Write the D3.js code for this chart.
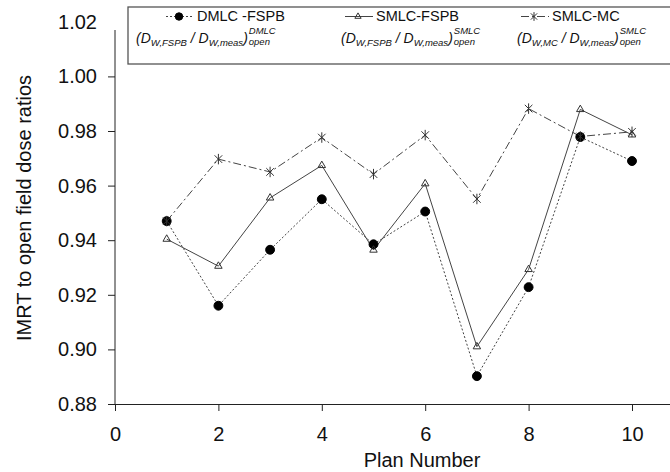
<!DOCTYPE html>
<html>
<head>
<meta charset="utf-8">
<script src="https://cdn.jsdelivr.net/npm/d3@7"></script>
<style>
  body { margin: 0; background: #fff; }
  svg { display: block; font-family: "Liberation Sans", Arial, sans-serif; }
</style>
</head>
<body>
<svg id="chart" width="670" height="472"></svg>
<script>
// values
const plans = [1, 2, 3, 4, 5, 6, 7, 8, 9, 10];
const dmlcFspb = [0.947, 0.916, 0.9365, 0.955, 0.9385, 0.9505, 0.8902, 0.9228, 0.9778, 0.969];
const smlcFspb = [0.9404, 0.9305, 0.9555, 0.9674, 0.9364, 0.9607, 0.901, 0.9293, 0.9879, 0.9786];
const smlcMc = [0.947, 0.9697, 0.965, 0.9776, 0.9642, 0.9785, 0.9551, 0.9882, 0.978, 0.9797];
const xTicks = [0, 2, 4, 6, 8, 10];
const yTicks = [0.88, 0.9, 0.92, 0.94, 0.96, 0.98, 1.0, 1.02];

const svg = d3.select("#chart");

// scales
const x = d3.scaleLinear().domain([0, 11]).range([115, 683.7]);
const y = d3.scaleLinear().domain([0.88, 1.02]).range([404, 21.8]);

// star marker: vertical bar with an X through it
const star = {
  draw(ctx, size) {
    const r = Math.sqrt(size) / 2;
    const d = r * 0.72;
    ctx.moveTo(0, -r); ctx.lineTo(0, r);
    ctx.moveTo(-d, -d); ctx.lineTo(d, d);
    ctx.moveTo(-d, d); ctx.lineTo(d, -d);
  }
};

const series = [
  { name: "DMLC -FSPB", values: dmlcFspb, dash: "2,2", sym: d3.symbolCircle, size: 62, fill: "#000", stroke: "#000",
    sup: "DMLC", sub1: "W,FSPB", lx: 136, sx: 166 },
  { name: "SMLC-FSPB", values: smlcFspb, dash: null, sym: d3.symbolTriangle2, size: 40, fill: "none", stroke: "#333",
    sup: "SMLC", sub1: "W,FSPB", lx: 341, sx: 345 },
  { name: "SMLC-MC", values: smlcMc, dash: "8,3,2,3", sym: star, size: 110, fill: "none", stroke: "#333",
    sup: "SMLC", sub1: "W,MC", lx: 517, sx: 521 }
];

// axes
const yAxis = d3.axisLeft(y).tickValues(yTicks).tickFormat(d3.format(".2f")).tickSize(7).tickPadding(11);
const gy = svg.append("g").attr("transform", "translate(115,0)").call(yAxis);
gy.select(".domain").remove();
gy.selectAll(".tick line").filter((d) => d > 1.01).remove();
gy.append("line").attr("x1", 0).attr("x2", 0).attr("y1", 30).attr("y2", y(0.88)).attr("stroke", "#222");

const xAxis = d3.axisBottom(x).tickValues(xTicks).tickSize(7).tickSizeOuter(0).tickPadding(16);
const gx = svg.append("g").attr("transform", "translate(0," + y(0.88) + ")").call(xAxis);

svg.selectAll(".tick text").attr("font-size", 20).attr("fill", "#111").attr("font-family", "Liberation Sans, Arial, sans-serif");
svg.selectAll(".tick line, .domain").attr("stroke", "#222");

// axis titles
svg.append("text").attr("x", 422).attr("y", 467).attr("text-anchor", "middle")
  .attr("font-size", 20).attr("fill", "#111").text("Plan Number");
svg.append("text").attr("transform", "translate(31,208) rotate(-90)").attr("text-anchor", "middle")
  .attr("font-size", 20).attr("fill", "#111").text("IMRT to open field dose ratios");

// lines and markers
const line = d3.line().x((d, i) => x(plans[i])).y((d) => y(d));

series.forEach((s) => {
  svg.append("path").datum(s.values).attr("d", line)
    .attr("fill", "none").attr("stroke", "#444").attr("stroke-width", 1)
    .attr("stroke-dasharray", s.dash);
});
series.forEach((s) => {
  svg.append("g").selectAll("path").data(s.values).join("path")
    .attr("transform", (d, i) => "translate(" + x(plans[i]) + "," + y(d) + ")")
    .attr("d", d3.symbol().type(s.sym).size(s.size))
    .attr("fill", s.fill).attr("stroke", s.stroke).attr("stroke-width", 1);
});

// legend
const lg = svg.append("g");
lg.append("rect").attr("x", 128).attr("y", 7).attr("width", 560).attr("height", 57)
  .attr("fill", "#fff").attr("stroke", "#555").attr("stroke-width", 1.3);

series.forEach((s) => {
  lg.append("line").attr("x1", s.sx).attr("x2", s.sx + 28).attr("y1", 16.5).attr("y2", 16.5)
    .attr("stroke", "#444").attr("stroke-dasharray", s.dash);
  lg.append("path").attr("transform", "translate(" + (s.sx + 13) + ",16.5)")
    .attr("d", d3.symbol().type(s.sym).size(s.size * 0.7))
    .attr("fill", s.fill).attr("stroke", s.stroke);
  lg.append("text").attr("x", s.sx + 31).attr("y", 21).attr("font-size", 14.5).attr("fill", "#111").text(s.name);

  const t = lg.append("text").attr("x", s.lx).attr("y", 43).attr("font-size", 14)
    .attr("font-style", "italic").attr("fill", "#111");
  t.append("tspan").text("(D");
  t.append("tspan").attr("font-size", 9.5).attr("dy", 3).text(s.sub1);
  t.append("tspan").attr("dy", -3).text(" / D");
  t.append("tspan").attr("font-size", 9.5).attr("dy", 3).text("W,meas");
  t.append("tspan").attr("dy", -3).text(")");
  const end = s.lx + t.node().getComputedTextLength() + 1;
  lg.append("text").attr("x", end).attr("y", 33.5).attr("font-size", 9.5)
    .attr("font-style", "italic").attr("fill", "#111").text(s.sup);
  lg.append("text").attr("x", end).attr("y", 44.5).attr("font-size", 9.5)
    .attr("font-style", "italic").attr("fill", "#111").text("open");
});
</script>
</body>
</html>
